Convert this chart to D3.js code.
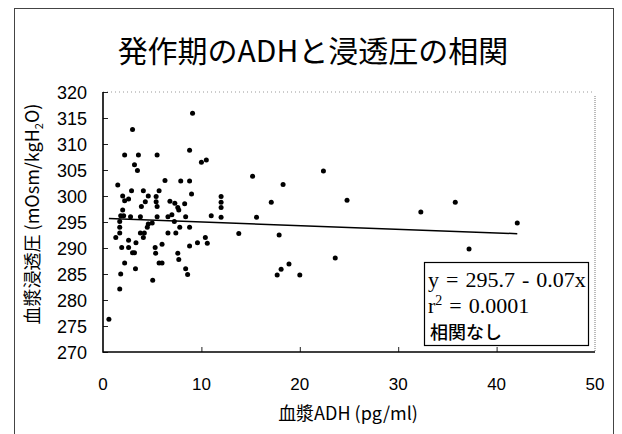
<!DOCTYPE html>
<html>
<head>
<meta charset="utf-8">
<script src="https://cdn.jsdelivr.net/npm/d3@7"></script>
<style>
  html, body { margin: 0; padding: 0; background: #fff; }
  svg { display: block; }
</style>
</head>
<body>
<svg id="chart" width="622" height="434"></svg>
<script>
// Plasma ADH (pg/ml) and plasma osmolality (mOsm/kgH2O) during attacks
const adh = [
  9.1, 3.0, 8.8, 2.2, 3.6, 5.5, 10.0, 10.5, 3.2, 3.5,
  15.2, 6.3, 7.9, 8.8, 18.3, 22.4, 1.5, 2.9, 4.1, 5.7,
  9.0, 2.0, 4.6, 5.4, 12.0, 2.2, 2.6, 4.3, 5.4, 6.8,
  7.3, 8.3, 12.0, 17.1, 24.8, 35.8, 3.9, 5.5, 7.6, 12.0,
  2.0, 7.7, 32.3, 7.0,
  1.8, 2.1, 2.8, 3.8, 5.5, 6.6, 8.4, 11.0, 12.0, 15.6,
  1.7, 7.25, 42.1, 4.6, 5.0, 1.7, 4.5, 7.8, 8.8, 1.7,
  3.8, 4.2, 6.6, 7.4, 13.8, 17.9, 1.3, 4.1, 10.4, 2.6,
  3.35, 9.6, 10.6, 6.0, 8.8, 1.9, 2.6, 5.3, 37.2, 3.0,
  3.2, 5.35, 7.6, 23.6, 7.7, 2.2, 5.7, 6.0, 18.9, 3.3,
  8.4, 18.1, 1.8, 8.6, 17.7, 20.0, 5.05, 1.7, 0.6
];
const osm = [
  315.9, 312.8, 308.8, 307.9, 307.9, 307.9, 306.5, 306.9, 306.0, 304.9,
  303.8, 303.0, 302.9, 302.9, 302.2, 304.8, 302.1, 301.0, 301.0, 301.0,
  300.4, 300.0, 300.0, 299.9, 299.9, 299.1, 299.4, 298.9, 298.9, 299.0,
  298.6, 298.5, 298.8, 298.8, 299.2, 298.8, 298.0, 298.0, 297.8, 297.8,
  297.3, 297.3, 296.9, 296.4,
  296.2, 296.2, 296.0, 296.0, 296.0, 296.0, 296.0, 296.2, 295.9, 295.9,
  295.1, 295.1, 294.8, 294.6, 294.8, 294.0, 294.0, 294.0, 294.0, 292.9,
  292.9, 292.9, 292.9, 292.9, 292.8, 292.5, 292.0, 292.0, 292.0, 291.5,
  291.0, 291.0, 290.9, 290.7, 290.4, 290.1, 290.1, 290.1, 289.8, 289.1,
  289.1, 289.0, 289.0, 288.1, 287.8, 287.1, 287.1, 287.1, 286.9, 286.0,
  286.0, 285.9, 285.0, 284.9, 284.8, 284.8, 283.8, 282.1, 276.3
];

const xTicks = [0, 10, 20, 30, 40, 50];
const yTicks = [270, 275, 280, 285, 290, 295, 300, 305, 310, 315, 320];

// Fitted regression line: y = 295.7 - 0.07x
const fitIntercept = 295.7;
const fitSlope = -0.07;
const fitRange = [0.6, 42.1];

const titleText = "発作期のADHと浸透圧の相関";
const xTitle = "血漿ADH (pg/ml)";
const legendLines = ["y = 295.7 - 0.07x", "r2 = 0.0001", "相関なし"];

const svg = d3.select("#chart");
const jp = "'Noto Sans CJK JP', sans-serif";
const num = "'Liberation Sans', Arial, sans-serif";
const serif = "'Liberation Serif', 'Times New Roman', serif";

// outer frame
svg.append("rect")
  .attr("x", 14.5).attr("y", 8.5)
  .attr("width", 599).attr("height", 440)
  .attr("fill", "none").attr("stroke", "#444").attr("stroke-width", 1);

const plot = { left: 103, right: 595, top: 92, bottom: 352 };

const x = d3.scaleLinear().domain([0, 50]).range([plot.left, plot.right]);
const y = d3.scaleLinear().domain([270, 320]).range([plot.bottom, plot.top]);

// title
svg.append("text")
  .attr("x", 313).attr("y", 62)
  .attr("text-anchor", "middle")
  .attr("font-family", jp).attr("font-size", 30)
  .attr("fill", "#000")
  .text(titleText);

// faint top and right plot borders
svg.append("line")
  .attr("x1", plot.left).attr("x2", plot.right)
  .attr("y1", plot.top).attr("y2", plot.top)
  .attr("stroke", "#999").attr("stroke-width", 1)
  .attr("stroke-dasharray", "1,3");
svg.append("line")
  .attr("x1", plot.right).attr("x2", plot.right)
  .attr("y1", plot.top + 4).attr("y2", plot.bottom)
  .attr("stroke", "#777").attr("stroke-width", 1)
  .attr("stroke-dasharray", "1,1");

// axes with inward ticks
const yAxis = d3.axisRight(y).tickValues(yTicks).tickSize(5).tickFormat("");
const yg = svg.append("g").attr("transform", `translate(${plot.left},0)`).call(yAxis);
yg.select(".domain").remove();
yg.selectAll(".tick line").attr("stroke", "#222").attr("stroke-width", 1);

const xAxis = d3.axisTop(x).tickValues(xTicks.slice(1, -1)).tickSize(5).tickFormat("");
const xg = svg.append("g").attr("transform", `translate(0,${plot.bottom})`).call(xAxis);
xg.select(".domain").remove();
xg.selectAll(".tick line").attr("stroke", "#222").attr("stroke-width", 1);

// left and bottom axis lines
svg.append("path")
  .attr("d", `M${plot.left},${plot.top}V${plot.bottom}H${plot.right}`)
  .attr("fill", "none").attr("stroke", "#000").attr("stroke-width", 1.6);

// tick labels
svg.append("g").selectAll("text").data(yTicks).join("text")
  .attr("x", 87).attr("y", d => y(d) + 6.5)
  .attr("text-anchor", "end")
  .attr("font-family", num).attr("font-size", 18)
  .text(d => d);

svg.append("g").selectAll("text").data(xTicks).join("text")
  .attr("x", d => x(d)).attr("y", 390)
  .attr("text-anchor", "middle")
  .attr("font-family", num).attr("font-size", 17)
  .text(d => d);

// axis titles
svg.append("text")
  .attr("x", 348).attr("y", 420)
  .attr("text-anchor", "middle")
  .attr("font-family", jp).attr("font-size", 18)
  .text(xTitle);

const yt = svg.append("text")
  .attr("transform", "translate(39,214) rotate(-90)")
  .attr("text-anchor", "middle")
  .attr("font-family", jp).attr("font-size", 18);
yt.append("tspan").text("血漿浸透圧 (mOsm/kgH");
yt.append("tspan").attr("font-size", 11).attr("dy", 4).text("2");
yt.append("tspan").attr("dy", -4).text("O)");

// regression line
svg.append("line")
  .attr("x1", x(fitRange[0])).attr("y1", y(fitIntercept + fitSlope * fitRange[0]))
  .attr("x2", x(fitRange[1])).attr("y2", y(fitIntercept + fitSlope * fitRange[1]))
  .attr("stroke", "#000").attr("stroke-width", 1.5);

// data points
svg.append("g").selectAll("circle").data(d3.zip(adh, osm)).join("circle")
  .attr("cx", d => x(d[0])).attr("cy", d => y(d[1]))
  .attr("r", 2.5).attr("fill", "#000");

// legend box with fit equation
svg.append("rect")
  .attr("x", 424.5).attr("y", 262.5)
  .attr("width", 164).attr("height", 83)
  .attr("fill", "#fff").attr("stroke", "#000").attr("stroke-width", 1.2);

svg.append("text")
  .attr("x", 428).attr("y", 287)
  .attr("font-family", serif).attr("font-size", 22)
  .attr("word-spacing", 1.5)
  .text(legendLines[0]);

const r2 = svg.append("text")
  .attr("x", 428).attr("y", 313)
  .attr("font-family", serif).attr("font-size", 22)
  .attr("word-spacing", 1.5);
r2.append("tspan").text("r");
r2.append("tspan").attr("font-size", 14).attr("dy", -8).text("2");
r2.append("tspan").attr("dy", 8).text(legendLines[1].slice(2));

svg.append("text")
  .attr("x", 430).attr("y", 339)
  .attr("font-family", jp).attr("font-size", 18).attr("font-weight", 500)
  .text(legendLines[2]);
</script>
</body>
</html>
